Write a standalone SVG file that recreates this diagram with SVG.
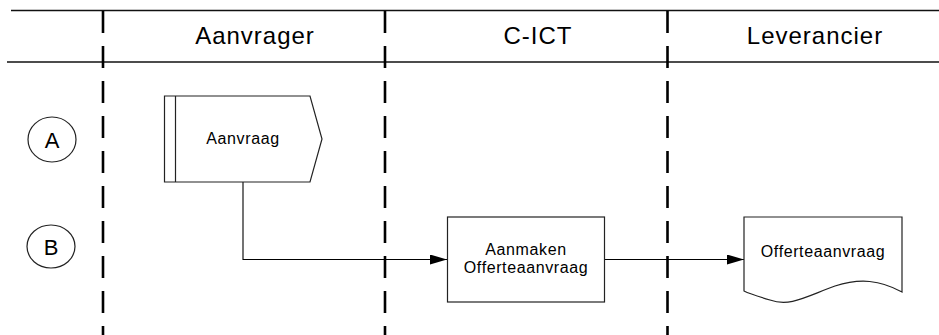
<svg xmlns="http://www.w3.org/2000/svg" width="939" height="335" viewBox="0 0 939 335">
<defs>
<style>
.hdr{fill:none;stroke:#111;stroke-width:1.5}
.lane{fill:none;stroke:#000;stroke-width:2.6;stroke-dasharray:22 13}
.shape{fill:#fff;stroke:#222;stroke-width:1.2}
.conn{fill:none;stroke:#000;stroke-width:1.1}
.title{font-family:"Liberation Sans",Arial,sans-serif;font-size:24px;letter-spacing:1px;fill:#000;text-anchor:middle}
.lbl{font-family:"Liberation Sans",Arial,sans-serif;font-size:16px;letter-spacing:0.6px;fill:#000;text-anchor:middle}
.mark{font-family:"Liberation Sans",Arial,sans-serif;font-size:22px;fill:#000;text-anchor:middle}
</style>
<marker id="arr" viewBox="0 0 17 10" refX="17" refY="5" markerWidth="17" markerHeight="10" markerUnits="userSpaceOnUse" orient="auto">
<path d="M0,0 L17,5 L0,10 Z" fill="#000"/>
</marker>
</defs>
<rect width="939" height="335" fill="#fff"/>
<g id="header">
<line class="hdr" x1="11" y1="10.5" x2="939" y2="10.5"/>
<line class="hdr" x1="7" y1="62" x2="939" y2="62"/>
<text class="title" x="255" y="44">Aanvrager</text>
<text class="title" x="538" y="44">C-ICT</text>
<text class="title" x="815" y="44">Leverancier</text>
</g>
<g id="lanes">
<line class="lane" x1="103" y1="11" x2="103" y2="335"/>
<line class="lane" x1="385" y1="11" x2="385" y2="335"/>
<line class="lane" x1="667.5" y1="11" x2="667.5" y2="335"/>
</g>
<g id="markerA">
<ellipse class="shape" cx="52" cy="139.5" rx="24" ry="22.5"/>
<text class="mark" x="52" y="147.5">A</text>
</g>
<g id="markerB">
<ellipse class="shape" cx="51" cy="246.5" rx="24" ry="21.5"/>
<text class="mark" x="51" y="254.5">B</text>
</g>
<g id="connectors">
<polyline class="conn" points="243,182 243,259.5 447,259.5" marker-end="url(#arr)"/>
<line class="conn" x1="604" y1="259.5" x2="744" y2="259.5" marker-end="url(#arr)"/>
</g>
<g id="aanvraag">
<polygon class="shape" points="164.5,96 310,96 322,139 310,182 164.5,182"/>
<line class="shape" x1="175.5" y1="96" x2="175.5" y2="182"/>
<text class="lbl" x="243" y="144">Aanvraag</text>
</g>
<g id="aanmaken">
<rect class="shape" x="447.5" y="217" width="157" height="85"/>
<text class="lbl" x="526" y="255">Aanmaken</text>
<text class="lbl" x="526" y="273">Offerteaanvraag</text>
</g>
<g id="offerteaanvraag">
<path class="shape" d="M744,217 H902 V292 C880,280 860,278 835,286 C805,297 790,307 770,300 C760,297 750,294 744,291 Z"/>
<text class="lbl" x="823" y="257">Offerteaanvraag</text>
</g>
</svg>
